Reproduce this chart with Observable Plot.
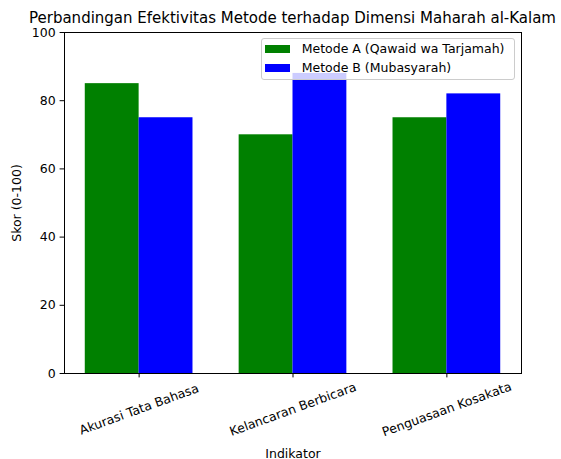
<!DOCTYPE html>
<html><head><meta charset="utf-8">
<script src="https://cdn.jsdelivr.net/npm/d3@7"></script>
<script src="https://cdn.jsdelivr.net/npm/@observablehq/plot@0.6"></script>
<style>
body{margin:0;background:#fff;font-family:"DejaVu Sans",sans-serif;color:#000;}
#wrap{position:relative;width:561px;height:459px;}
#title{position:absolute;left:292.5px;top:11px;transform:translateX(-50%);white-space:nowrap;font-size:15px;line-height:1;}
#legend{position:absolute;left:260.7px;top:38.3px;width:254px;height:42px;box-sizing:border-box;border:1px solid #cccccc;border-radius:3px;background:rgba(255,255,255,0.8);font-size:12.5px;line-height:1;}
.sw{position:absolute;left:3.3px;width:25px;height:8px;}
.lt{position:absolute;left:40px;white-space:nowrap;}
</style></head>
<body><div id="wrap"></div>
<script>
const title = "Perbandingan Efektivitas Metode terhadap Dimensi Maharah al-Kalam";
const categories = ["Akurasi Tata Bahasa", "Kelancaran Berbicara", "Penguasaan Kosakata"];
const seriesNames = ["Metode A (Qawaid wa Tarjamah)", "Metode B (Mubasyarah)"];
const seriesA = [85, 70, 75];
const seriesB = [75, 88, 82];
const seriesColors = ["green", "blue"];
const yTicks = [0, 20, 40, 60, 80, 100];
const xLabel = "Indikator";
const yLabel = "Skor (0-100)";

const barW = 0.35;
const rowsA = categories.map((c, i) => ({cat: c, i, value: seriesA[i]}));
const rowsB = categories.map((c, i) => ({cat: c, i, value: seriesB[i]}));

const chart = Plot.plot({
  width: 561, height: 459,
  marginLeft: 64, marginRight: 40, marginTop: 32, marginBottom: 86,
  style: {fontFamily: "DejaVu Sans", fontSize: "12.5px", color: "#000", background: "#fff"},
  x: {type: "linear", domain: [-0.485, 2.485]},
  y: {domain: [0, 100]},
  marks: [
    Plot.rectY(rowsA, {x1: d => d.i - barW, x2: d => d.i, y1: 0, y2: "value", fill: seriesColors[0]}),
    Plot.rectY(rowsB, {x1: d => d.i, x2: d => d.i + barW, y1: 0, y2: "value", fill: seriesColors[1]}),
    Plot.axisY({ticks: yTicks, tickSize: 4.4, tickPadding: 4.5, fontSize: 12.5, label: yLabel, labelAnchor: "center", labelArrow: "none", labelOffset: 52}),
    Plot.axisX({ticks: [0, 1, 2], tickFormat: i => categories[i], tickSize: 4.4, tickPadding: 31.5, tickRotate: -20, lineAnchor: "middle", textAnchor: "middle", fontSize: 12.5, label: xLabel, labelAnchor: "center", labelArrow: "none", labelOffset: 84}),
    Plot.frame({stroke: "#000", strokeWidth: 1})
  ]
});
const wrap = document.getElementById("wrap");
wrap.appendChild(chart);
const t = document.createElement("div"); t.id = "title"; t.textContent = title; wrap.appendChild(t);
const lg = document.createElement("div"); lg.id = "legend";
const swTops = [5.7, 24.7], txTops = [4, 23];
seriesNames.forEach((n, k) => {
  const s = document.createElement("div"); s.className = "sw"; s.style.top = swTops[k] + "px"; s.style.background = seriesColors[k]; lg.appendChild(s);
  const l = document.createElement("div"); l.className = "lt"; l.style.top = txTops[k] + "px"; l.textContent = n; lg.appendChild(l);
});
wrap.appendChild(lg);
</script></body></html>
